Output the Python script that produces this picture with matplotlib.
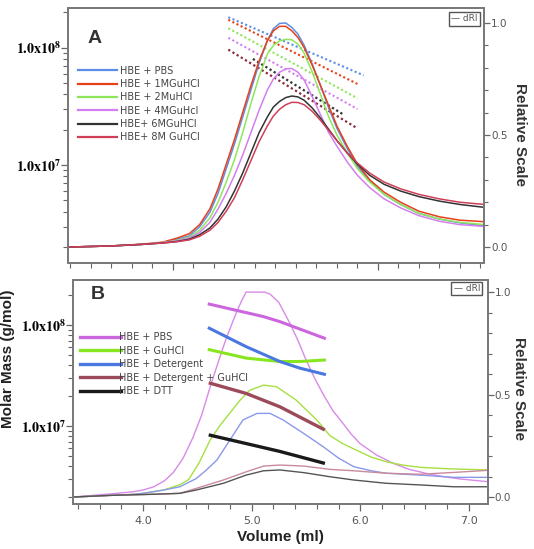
import matplotlib
matplotlib.use('Agg')
import matplotlib.pyplot as plt
from matplotlib.lines import Line2D
from matplotlib.ticker import MultipleLocator, LogLocator, NullFormatter

plt.rcParams['mathtext.fontset'] = 'stix'
plt.rcParams['font.family'] = ['DejaVu Sans']

# ---- panel A : dRI traces (relative scale) ----
vol_a = [4.49, 4.70, 4.85, 4.95, 5.02, 5.08, 5.13, 5.18, 5.22, 5.26, 5.30, 5.34, 5.38, 5.42,
         5.46, 5.49, 5.52, 5.55, 5.58, 5.61, 5.64, 5.68, 5.72, 5.76, 5.80, 5.85, 5.90, 5.96,
         6.03, 6.11, 6.20, 6.30, 6.40, 6.52]
dri_pbs = [0.0, 0.005, 0.012, 0.02, 0.035, 0.05, 0.09, 0.155, 0.24, 0.35, 0.46, 0.58, 0.70, 0.82,
           0.92, 0.975, 0.998, 1.0, 0.98, 0.95, 0.90, 0.815, 0.72, 0.62, 0.53, 0.44, 0.36, 0.295,
           0.235, 0.19, 0.15, 0.125, 0.108, 0.094]
dri_1m = [0.0, 0.005, 0.013, 0.022, 0.04, 0.06, 0.10, 0.17, 0.26, 0.37, 0.48, 0.60, 0.72, 0.83,
          0.92, 0.965, 0.985, 0.985, 0.965, 0.935, 0.89, 0.81, 0.72, 0.63, 0.54, 0.45, 0.37, 0.30,
          0.245, 0.20, 0.16, 0.135, 0.12, 0.113]
dri_2m = [0.0, 0.005, 0.012, 0.02, 0.03, 0.045, 0.075, 0.13, 0.20, 0.29, 0.39, 0.51, 0.64, 0.76,
          0.86, 0.90, 0.92, 0.927, 0.925, 0.905, 0.865, 0.78, 0.68, 0.58, 0.50, 0.42, 0.35, 0.29,
          0.235, 0.19, 0.15, 0.125, 0.11, 0.10]
dri_4m = [0.0, 0.005, 0.012, 0.02, 0.028, 0.04, 0.065, 0.11, 0.17, 0.24, 0.32, 0.41, 0.51, 0.61,
          0.70, 0.75, 0.78, 0.795, 0.797, 0.78, 0.745, 0.67, 0.59, 0.51, 0.45, 0.38, 0.32, 0.265,
          0.215, 0.175, 0.14, 0.115, 0.10, 0.092]
dri_6m = [0.0, 0.005, 0.012, 0.018, 0.025, 0.035, 0.055, 0.085, 0.125, 0.18, 0.25, 0.33, 0.42, 0.51,
          0.58, 0.625, 0.65, 0.667, 0.674, 0.67, 0.655, 0.62, 0.575, 0.525, 0.475, 0.42, 0.37, 0.32,
          0.28, 0.25, 0.225, 0.205, 0.19, 0.177]
dri_8m = [0.0, 0.005, 0.012, 0.018, 0.024, 0.032, 0.048, 0.075, 0.11, 0.16, 0.22, 0.30, 0.385, 0.47,
          0.54, 0.585, 0.615, 0.635, 0.646, 0.645, 0.635, 0.605, 0.565, 0.52, 0.475, 0.42, 0.375, 0.33,
          0.29, 0.26, 0.235, 0.215, 0.20, 0.19]

# panel A : molar mass fits (dotted)
mm_x_a = [5.27, 5.90]
mm_x_a_pbs = [5.27, 5.93]
mm_x_a_6m = [5.39, 5.83]
mm_pbs = [1.81e8, 5.8e7]
mm_1m = [1.72e8, 4.9e7]
mm_2m = [1.46e8, 3.7e7]
mm_4m = [1.21e8, 3.0e7]
mm_6m = [8.0e7, 2.7e7]
mm_8m = [9.6e7, 2.05e7]

labels_a = ['HBE + PBS', 'HBE + 1MGuHCl', 'HBE + 2MuHCl', 'HBE + 4MGuHcl',
            'HBE+ 6MGuHCl', 'HBE+ 8M GuHCl']
colors_a = ['#5b8ee6', '#e8401a', '#8ee65a', '#d47ff0', '#333333', '#cf3f58']

# ---- panel B : dRI traces ----
vol_b_pbs = [3.36, 3.70, 3.90, 4.00, 4.10, 4.20, 4.28, 4.37, 4.46, 4.54, 4.62, 4.70, 4.77, 4.86,
             4.91, 4.95, 5.12, 5.17, 5.25, 5.35, 5.43, 5.50, 5.58, 5.66, 5.75, 5.84, 5.92, 6.00,
             6.15, 6.30, 6.45, 6.61, 6.76, 6.92, 7.17]
dri_b_pbs = [0.0, 0.015, 0.025, 0.034, 0.05, 0.08, 0.12, 0.19, 0.29, 0.40, 0.54, 0.67, 0.78, 0.90,
             0.96, 1.0, 1.0, 0.99, 0.95, 0.85, 0.76, 0.67, 0.58, 0.50, 0.42, 0.36, 0.305, 0.26,
             0.205, 0.165, 0.135, 0.115, 0.10, 0.088, 0.075]
vol_b_gu = [3.36, 3.70, 3.88, 4.00, 4.19, 4.34, 4.42, 4.52, 4.62, 4.71, 4.80, 4.89, 4.98,
            5.11, 5.23, 5.41, 5.60, 5.72, 5.84, 5.94, 6.10, 6.24, 6.40, 6.55, 6.80, 7.17]
dri_b_gu = [0.0, 0.008, 0.012, 0.018, 0.034, 0.06, 0.085, 0.17, 0.28, 0.35, 0.41, 0.47, 0.52,
            0.546, 0.538, 0.473, 0.376, 0.30, 0.26, 0.235, 0.195, 0.172, 0.155, 0.145, 0.138, 0.132]
vol_b_det = [3.36, 3.70, 3.88, 4.00, 4.19, 4.34, 4.49, 4.58, 4.68, 4.80, 4.92, 5.05, 5.17,
             5.29, 5.48, 5.66, 5.80, 5.94, 6.10, 6.24, 6.55, 6.86, 7.17]
dri_b_det = [0.0, 0.008, 0.012, 0.018, 0.034, 0.05, 0.09, 0.13, 0.18, 0.278, 0.376, 0.408, 0.408,
             0.376, 0.31, 0.245, 0.19, 0.148, 0.128, 0.116, 0.107, 0.096, 0.096]
vol_b_low = [3.36, 3.70, 4.00, 4.19, 4.34, 4.49, 4.74, 4.95, 5.11, 5.26, 5.48, 5.72, 5.94,
             6.24, 6.55, 6.86, 7.17]
dri_b_detgu = [0.0, 0.008, 0.012, 0.015, 0.018, 0.042, 0.083, 0.123, 0.151, 0.156, 0.151, 0.135,
               0.128, 0.116, 0.111, 0.12, 0.13]
dri_b_dtt = [0.0, 0.008, 0.012, 0.015, 0.018, 0.034, 0.067, 0.107, 0.128, 0.132, 0.119, 0.099,
             0.083, 0.067, 0.059, 0.05, 0.05]

# panel B : molar mass (thick)
mm_x_b = [4.61, 4.95, 5.26, 5.44, 5.67]
mm_b_pbs_x = [4.61, 5.11, 5.26, 5.67]
mm_b_pbs = [1.61e8, 1.21e8, 1.08e8, 7.4e7]
mm_b_gu = [5.7e7, 4.7e7, 4.35e7, 4.35e7, 4.5e7]
mm_b_det = [9.3e7, 6.1e7, 4.35e7, 3.75e7, 3.25e7]
mm_b_low_x = [4.62, 4.95, 5.26, 5.66]
mm_b_detgu = [2.65e7, 2.1e7, 1.55e7, 9.3e6]
mm_b_dtt = [8.1e6, 6.7e6, 5.6e6, 4.3e6]

labels_b = ['HBE + PBS', 'HBE + GuHCl', 'HBE + Detergent', 'HBE + Detergent + GuHCl', 'HBE + DTT']
thick_b = ['#cc66dd', '#88e620', '#4a78e0', '#9b4a5a', '#1a1a1a']
thin_b = ['#d88ae8', '#a6e040', '#8a98ea', '#c98a9c', '#555555']

SPINE = '#7a7a7a'
TICKC = '#666666'


def style_axes(ax, ax2):
    for a in (ax, ax2):
        for s in a.spines.values():
            s.set_color(SPINE)
            s.set_linewidth(1.4)
    ax.tick_params(axis='both', which='major', direction='out', length=5, width=0.9, color=TICKC)
    ax.tick_params(axis='both', which='minor', direction='out', length=3.5, width=0.8, color=TICKC)
    ax.tick_params(axis='y', labelsize=10, pad=0)
    ax2.tick_params(axis='y', which='major', direction='out', length=4, width=0.9, color=TICKC,
                    labelsize=7.5, labelcolor='#555555', pad=1)
    ax2.tick_params(axis='y', which='minor', direction='out', length=3, width=0.8, color=TICKC)
    ax.yaxis.set_minor_locator(LogLocator(base=10, subs=range(2, 10)))
    ax.yaxis.set_minor_formatter(NullFormatter())
    ax.set_yticks([1e7, 1e8], labels=[r'$\mathbf{1.0x10^{7}}$', r'$\mathbf{1.0x10^{8}}$'])
    ax2.set_yticks([0.0, 0.5, 1.0], labels=['0.0', '0.5', '1.0'])
    ax2.yaxis.set_minor_locator(MultipleLocator(0.1))


fig = plt.figure(figsize=(5.34, 5.49), dpi=100)

# ---------------- panel A ----------------
axA = fig.add_axes([0.1273, 0.521, 0.779, 0.4645])
axA.set_yscale('log')
axA2 = axA.twinx()
dash = (0, (1, 1.2))
axA.plot(mm_x_a_pbs, mm_pbs, color=colors_a[0], lw=1.5, ls=dash)
axA.plot(mm_x_a, mm_1m, color=colors_a[1], lw=1.5, ls=dash)
axA.plot(mm_x_a, mm_2m, color=colors_a[2], lw=1.5, ls=dash)
axA.plot(mm_x_a, mm_4m, color=colors_a[3], lw=1.5, ls=dash)
axA.plot(mm_x_a_6m, mm_6m, color=colors_a[4], lw=1.6, ls=dash)
axA.plot(mm_x_a, mm_8m, color='#8a2a3a', lw=1.6, ls=dash)

for ys, c in zip([dri_pbs, dri_1m, dri_2m, dri_4m, dri_6m, dri_8m], colors_a):
    axA2.plot(vol_a, ys, color=c, lw=1.1)

axA.set_xlim(4.488, 6.517)
axA.set_ylim(1.47e6, 2.17e8)
axA2.set_ylim(-0.071, 1.067)
axA.set_xticks([5.0, 6.0])
axA.set_xticklabels([])
axA.xaxis.set_minor_locator(MultipleLocator(0.1))
style_axes(axA, axA2)

handles_a = [Line2D([], [], color=c, lw=1.6) for c in colors_a]
legA = axA2.legend(handles_a, labels_a, loc='upper left', bbox_to_anchor=(0.025, 0.773),
                   frameon=False, fontsize=7, handlelength=4.0, handletextpad=0.3,
                   labelspacing=0.34, borderpad=0, borderaxespad=0)
for t in legA.get_texts():
    t.set_color('#444444')
axA2.text(0.065, 0.88, 'A', transform=axA2.transAxes, fontsize=14, fontweight='bold',
          family='Liberation Sans', ha='center', va='center', color='#333333')
axA2.text(0.984, 0.975, '\u2014 dRI', transform=axA2.transAxes, fontsize=6.5, color='#555555',
          ha='right', va='top',
          bbox=dict(boxstyle='square,pad=0.25', fc='white', ec='#555555', lw=1.0))

# ---------------- panel B ----------------
axB = fig.add_axes([0.1367, 0.082, 0.777, 0.408])
axB.set_yscale('log')
axB2 = axB.twinx()

thin_series = [(vol_b_pbs, dri_b_pbs), (vol_b_gu, dri_b_gu), (vol_b_det, dri_b_det),
               (vol_b_low, dri_b_detgu), (vol_b_low, dri_b_dtt)]
for (xs, ys), c in zip(thin_series, thin_b):
    axB2.plot(xs, ys, color=c, lw=1.0)

axB.plot(mm_b_pbs_x, mm_b_pbs, color=thick_b[0], lw=2.2, zorder=5)
axB.plot(mm_x_b, mm_b_gu, color=thick_b[1], lw=2.2, zorder=5)
axB.plot(mm_x_b, mm_b_det, color=thick_b[2], lw=2.2, zorder=5)
axB.plot(mm_b_low_x, mm_b_detgu, color=thick_b[3], lw=2.4, zorder=5)
axB.plot(mm_b_low_x, mm_b_dtt, color=thick_b[4], lw=2.4, zorder=5)
axB.set_zorder(axB2.get_zorder() + 1)
axB.patch.set_visible(False)

axB.set_xlim(3.356, 7.175)
axB.set_ylim(1.69e6, 2.79e8)
axB2.set_ylim(-0.034, 1.059)
axB.set_xticks([4.0, 5.0, 6.0, 7.0], labels=['4.0', '5.0', '6.0', '7.0'])
axB.xaxis.set_minor_locator(MultipleLocator(0.2))
style_axes(axB, axB2)
axB.tick_params(axis='x', labelsize=8, labelcolor='#555555', pad=4)

handles_b = [Line2D([], [], color=c, lw=2.4) for c in thick_b]
legB = axB.legend(handles_b, labels_b, loc='upper left', bbox_to_anchor=(0.017, 0.766),
                  frameon=False, fontsize=7, handlelength=4.2, handletextpad=-0.15,
                  labelspacing=0.35, borderpad=0, borderaxespad=0)
for t in legB.get_texts():
    t.set_color('#444444')
axB.text(0.06, 0.933, 'B', transform=axB.transAxes, fontsize=14, fontweight='bold',
         family='Liberation Sans', ha='center', va='center', color='#333333')
axB.text(0.981, 0.982, '\u2014 dRI', transform=axB.transAxes, fontsize=6.5, color='#555555',
         ha='right', va='top',
         bbox=dict(boxstyle='square,pad=0.25', fc='white', ec='#555555', lw=1.0))

# ---------------- shared labels ----------------
fig.text(0.015, 0.347, 'Molar Mass (g/mol)', rotation=90, fontsize=11, fontweight='bold',
         family='Liberation Sans', ha='center', va='center', color='#222222')
fig.text(0.973, 0.755, 'Relative Scale', rotation=270, fontsize=11, fontweight='bold',
         family='Liberation Sans', ha='center', va='center', color='#333333')
fig.text(0.971, 0.293, 'Relative Scale', rotation=270, fontsize=11, fontweight='bold',
         family='Liberation Sans', ha='center', va='center', color='#333333')
fig.text(0.525, 0.022, 'Volume (ml)', fontsize=11, fontweight='bold',
         family='Liberation Sans', ha='center', va='center', color='#222222')

fig.savefig('out.png', dpi=100)
